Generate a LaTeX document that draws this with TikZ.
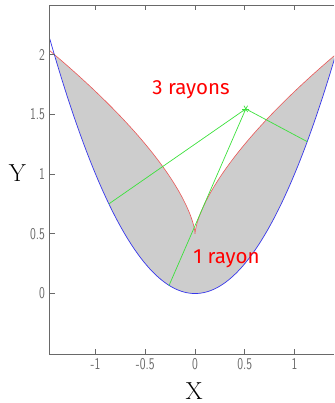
\documentclass[tikz,border=0pt]{standalone}
\usepackage{fontspec}
\newfontfamily\notefont{Fira Sans}
\usepackage{tikz}
\definecolor{CurveBlue}{RGB}{55,55,235}
\definecolor{CurveRed}{RGB}{235,85,85}
\definecolor{RayGreen}{RGB}{60,225,60}
\definecolor{FillGrey}{RGB}{205,205,205}
\definecolor{AxisGrey}{RGB}{105,105,105}
\newcommand{\ticklab}[1]{\scalebox{0.72}[1]{#1}}
\tikzset{
  axisline/.style={AxisGrey,line width=0.8pt},
  ticklabel/.style={AxisGrey,font=\sffamily\fontsize{14}{14}\selectfont,inner sep=0pt},
  raylabel/.style={red,font=\notefont\fontsize{16}{16}\selectfont,inner sep=0pt},
  axislabel/.style={font=\fontsize{21}{21}\selectfont,inner sep=0pt},
  ray/.style={RayGreen,line width=0.6pt}
}

\begin{document}
\begin{tikzpicture}[x=2.985cm,y=3.585cm]
		\useasboundingbox (-1.96,-0.916) rectangle (1.397,2.456);
		\begin{scope}
		\clip (-1.46,-0.506) rectangle (1.397,2.414);
		% region between the parabola and its evolute
		\fill[FillGrey] plot[domain=-1.4142:1.4142,smooth,samples=120,variable=\x] ({\x},{\x*\x})
			-- plot[domain=-0.7071:0.7071,smooth,samples=120,variable=\x] ({-4*\x*\x*\x},{0.5+3*\x*\x}) -- cycle;
		% evolute
		\draw[domain=-0.716:0.716,smooth,samples=120,variable=\x,CurveRed,line width=0.5pt] plot ({-4*\x*\x*\x},{0.5+3*\x*\x});
		% parabola y = x^2
		\draw[domain=-1.46:1.46,smooth,samples=120,variable=\x,CurveBlue,line width=0.6pt] plot ({\x},{\x*\x});
		% the three normals through P
		\coordinate (P) at (0.51,1.545);
		\coordinate (footA) at (-0.261,0.068);
		\coordinate (footB) at (1.127,1.271);
		\coordinate (footC) at (-0.866,0.750);
		\draw[ray] (P) -- (footA);
		\draw[ray] (P) -- (footB);
		\draw[ray] (P) -- (footC);
		\foreach \a in {0,60,120}
			\draw[ray] ([shift={(\a:0.11cm)}]P) -- ([shift={(\a+180:0.11cm)}]P);
		\end{scope}

		% axes box
		\draw[axisline] (1.397,2.414) -- (-1.46,2.414) -- (-1.46,-0.506) -- (1.397,-0.506);
		\foreach \t in {-1,-0.5,0,0.5,1} {
			\draw[axisline] (\t,-0.506) -- ++(0,0.15cm);
			\draw[axisline] (\t,2.414) -- ++(0,-0.15cm);
			\node[ticklabel,anchor=north] (xt\t) at ([yshift=-0.12cm]\t,-0.506) {\ticklab{\t}};
		}
		\foreach \t in {0,0.5,1,1.5,2} {
			\draw[axisline] (-1.46,\t) -- ++(0.15cm,0);
			\node[ticklabel,anchor=east] (yt\t) at ([xshift=-0.14cm]-1.46,\t) {\ticklab{\t}};
		}

		% labels
		\node[axislabel] (xlab) at (-0.01,-0.813) {X};
		\node[axislabel] (ylab) at (-1.785,1.005) {Y};
		\node[raylabel,anchor=base west,font=\notefont\fontsize{17.5}{17.5}\selectfont] (three) at (-0.43,1.666) {3 rayons};
		\node[raylabel,anchor=base west,font=\notefont\fontsize{17.5}{17.5}\selectfont] (one) at (-0.02,0.248) {1 rayon};
	\end{tikzpicture}
\end{document}
